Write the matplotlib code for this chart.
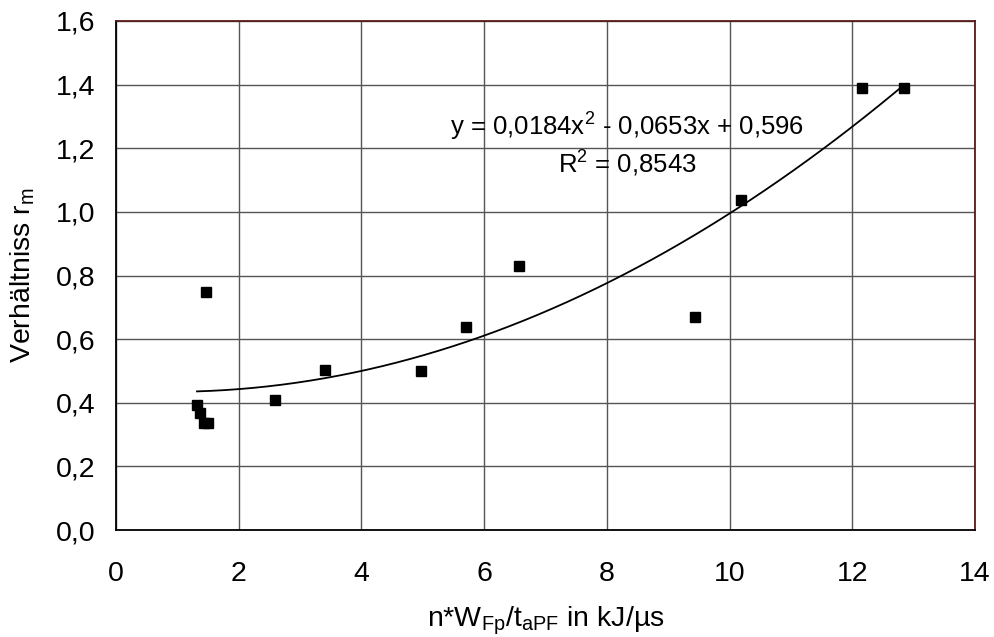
import numpy as np
import matplotlib.pyplot as plt

plt.rcParams['font.family'] = ['Liberation Sans', 'DejaVu Sans']

x_data = [1.32, 1.37, 1.43, 1.50, 1.47, 2.59, 3.40, 4.97, 5.71, 6.56, 9.44, 10.19, 12.16, 12.84]
y_data = [0.392, 0.367, 0.335, 0.335, 0.748, 0.408, 0.502, 0.499, 0.638, 0.830, 0.669, 1.038, 1.390, 1.390]

x_ticks = [0, 2, 4, 6, 8, 10, 12, 14]
y_ticks = [0.0, 0.2, 0.4, 0.6, 0.8, 1.0, 1.2, 1.4, 1.6]

fig = plt.figure(figsize=(9.95, 6.37), dpi=100)
ax = fig.add_axes([116 / 995, 1 - 530 / 637, (975 - 116) / 995, (530 - 21) / 637])

# Trendlinie (Polynom 2. Ordnung)
coef = np.polyfit(x_data, y_data, 2)
x_fit = np.linspace(min(x_data), max(x_data), 200)
ax.plot(x_fit, np.polyval(coef, x_fit), color='black', lw=1.3, zorder=3)

ax.plot(x_data, y_data, 's', color='black', markersize=7.3, zorder=4)

ax.set_xlim(0, 14)
ax.set_ylim(0, 1.6)
ax.set_xticks(x_ticks)
ax.set_yticks(y_ticks)
ax.set_xticklabels([str(t) for t in x_ticks])
ax.set_yticklabels([('%.1f' % t).replace('.', ',') for t in y_ticks])
ax.tick_params(length=0, labelsize=20.5)
ax.tick_params(axis='x', pad=22)
ax.tick_params(axis='y', pad=15)
ax.grid(True, color='#555555', lw=1)
ax.set_axisbelow(True)

for s in ['left', 'bottom']:
    ax.spines[s].set_color('black')
    ax.spines[s].set_linewidth(1.3)
for s in ['top', 'right']:
    ax.spines[s].set_color('#5a1a1a')
    ax.spines[s].set_linewidth(1.3)

xl = ax.set_xlabel(r'n*W$_{\mathregular{Fp}}$/t$_{\mathregular{aPF}}$ in kJ/µs', fontsize=20.5)
xl.set_va('baseline')
ax.xaxis.set_label_coords(0.5, (530 - 626) / 509)
yl = ax.set_ylabel(r'Verhältniss r$_{\mathregular{m}}$', fontsize=20.5)
yl.set_va('center')
ax.yaxis.set_label_coords((23 - 116) / 859, 0.5)

ax.text(0.595, 0.776, r'y = 0,0184x$^{\mathregular{2}}$ - 0,0653x + 0,596', transform=ax.transAxes,
        ha='center', va='baseline', fontsize=18.5)
ax.text(0.595, 0.703, r'R$^{\mathregular{2}}$ = 0,8543', transform=ax.transAxes,
        ha='center', va='baseline', fontsize=18.5)

fig.savefig('out.png', dpi=100)
